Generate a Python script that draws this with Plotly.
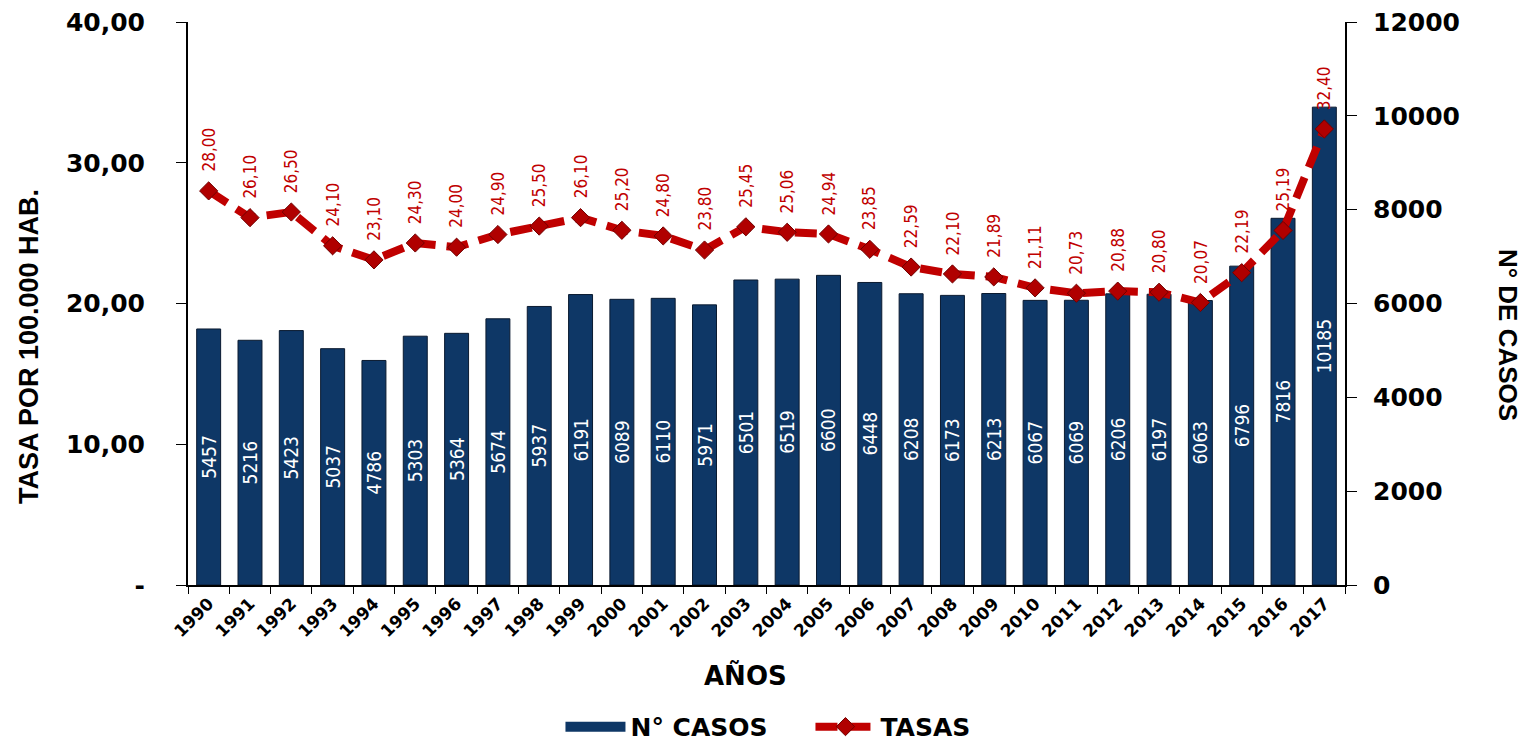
import plotly.graph_objects as go

years = [str(y) for y in range(1990, 2018)]
casos = [5457, 5216, 5423, 5037, 4786, 5303, 5364, 5674, 5937, 6191, 6089, 6110, 5971,
         6501, 6519, 6600, 6448, 6208, 6173, 6213, 6067, 6069, 6206, 6197, 6063, 6796, 7816, 10185]
tasas = [28.00, 26.10, 26.50, 24.10, 23.10, 24.30, 24.00, 24.90, 25.50, 26.10, 25.20, 24.80, 23.80,
         25.45, 25.06, 24.94, 23.85, 22.59, 22.10, 21.89, 21.11, 20.73, 20.88, 20.80, 20.07, 22.19, 25.19, 32.40]
left_ticks = [0, 10, 20, 30, 40]
left_ticktext = ["-", "10,00", "20,00", "30,00", "40,00"]
right_ticks = [0, 2000, 4000, 6000, 8000, 10000, 12000]

COND = "DejaVu Sans Condensed, Liberation Sans, sans-serif"
WIDE = "DejaVu Sans, Liberation Sans, sans-serif"
SANS = "Liberation Sans, Arial, sans-serif"
BAR_COLOR = "#0e3766"
RED = "#c00000"

fig = go.Figure()
fig.add_trace(go.Bar(
    x=years, y=casos, name="N° CASOS", yaxis="y", showlegend=False,
    marker=dict(color=BAR_COLOR, line=dict(color="#0a1a30", width=1)),
    text=[str(v) for v in casos], textposition="inside", insidetextanchor="middle",
    textangle=-90, textfont=dict(color="white", size=19, family=COND),
    constraintext="none",
))
# legend-only entry with a wide swatch for the bars
fig.add_trace(go.Scatter(
    x=[None], y=[None], name="N° CASOS", mode="lines", yaxis="y",
    line=dict(color=BAR_COLOR, width=17),
))
fig.add_trace(go.Scatter(
    x=years, y=tasas, name="TASAS", yaxis="y2", mode="lines+markers",
    line=dict(color=RED, width=8, dash="22px,11px"),
    marker=dict(symbol="diamond", size=14, color="#b00000", line=dict(color="#700000", width=1)),
))

annotations = []
for i, t in enumerate(tasas):
    annotations.append(dict(
        x=i, y=t, xref="x", yref="y2", text=f"{t:.2f}".replace(".", ","),
        textangle=-90, showarrow=False, yanchor="bottom", xanchor="center", yshift=17,
        font=dict(color=RED, size=17, family=COND),
    ))

annotations += [
    dict(x=-0.1374, y=0.4227, xref="paper", yref="paper", text="TASA POR 100.000 HAB.",
         textangle=-90, showarrow=False, xanchor="center", yanchor="middle",
         font=dict(size=27, family=SANS, color="black", weight="bold")),
    dict(x=1.141, y=0.444, xref="paper", yref="paper", text="N° DE CASOS",
         textangle=90, showarrow=False, xanchor="center", yanchor="middle",
         font=dict(size=26, family=SANS, color="black", weight="bold")),
    dict(x=0.482, y=-0.16, xref="paper", yref="paper", text="AÑOS",
         showarrow=False, xanchor="center", yanchor="middle",
         font=dict(size=26, family=WIDE, color="black", weight="bold")),
]

# page body adds an 8px offset; size figure to fill the remaining window
fig.update_layout(
    width=1521, height=736,
    margin=dict(l=180, r=184, t=14, b=159, autoexpand=False),
    paper_bgcolor="white", plot_bgcolor="white",
    bargap=0.42,
    showlegend=True,
    legend=dict(orientation="h", x=0.538, xanchor="center", y=-0.252, yanchor="middle",
                font=dict(size=25, family=WIDE, color="black", weight="bold"),
                itemwidth=60, entrywidth=175, traceorder="normal"),
    xaxis=dict(type="category", range=[-0.5, 27.5], tickangle=-45, showline=True,
               linecolor="black", linewidth=2, automargin=False,
               ticks="outside", ticklen=7, tickcolor="black", tickson="boundaries",
               tickfont=dict(size=17, family=WIDE, color="black", weight="bold"),
               showgrid=False, zeroline=False, ticklabeloverflow="allow"),
    yaxis=dict(side="right", range=[0, 12000], tickvals=right_ticks, tickformat="d",
               showline=True, linecolor="black", linewidth=2, ticks="outside", ticklen=10,
               tickcolor="black", showgrid=False, zeroline=False, automargin=False,
               ticklabelstandoff=11, ticklabeloverflow="allow",
               tickfont=dict(size=25, family=WIDE, color="black", weight="bold")),
    yaxis2=dict(side="left", overlaying="y", range=[0, 40], tickvals=left_ticks,
                ticktext=left_ticktext, showline=True, linecolor="black", linewidth=2,
                ticks="outside", ticklen=10, tickcolor="black", showgrid=False, zeroline=False,
                automargin=False, ticklabelstandoff=26, ticklabeloverflow="allow",
                tickfont=dict(size=25, family=WIDE, color="black", weight="bold")),
    annotations=annotations,
)

fig.write_html("out.html")
